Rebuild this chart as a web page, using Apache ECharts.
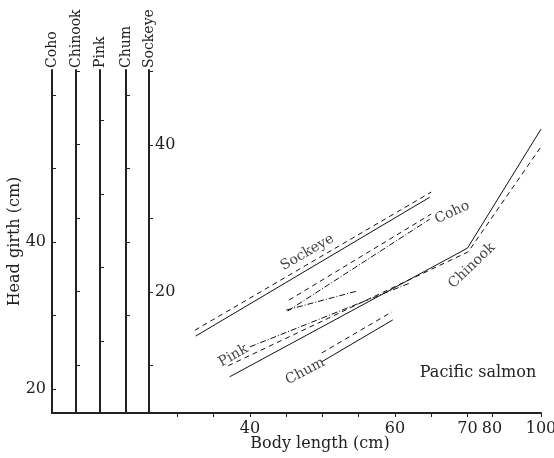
<!DOCTYPE html>
<html><head><meta charset="utf-8">
<script src="https://cdn.jsdelivr.net/npm/echarts@6/dist/echarts.min.js"></script>
<style>html,body{margin:0;padding:0;background:#fff}#c{width:554px;height:458px}</style>
</head><body><div id="c"></div>
<script>
// ---------------- data (body length in cm; head girth in cm on each species' own axis) ----------------
const species = ['Coho', 'Chinook', 'Pink', 'Chum', 'Sockeye'];

const sockeyeSolidX = [32.5, 64.8];
const sockeyeSolidY = [14.0, 32.9];
const sockeyeDashX  = [32.4, 65.0];
const sockeyeDashY  = [14.8, 33.6];

const cohoSolidX = [45.2, 64.8];
const cohoSolidY = [30.6, 43.1];
const cohoDashX  = [45.4, 65.0];
const cohoDashY  = [32.1, 43.8];

const pinkSolidX = [40.0, 62.1];
const pinkSolidY = [19.2, 27.9];
const pinkDashX  = [45.0, 54.8];
const pinkDashY  = [24.2, 26.8];

const chinookSolidX = [37.2, 70.0, 100];
const chinookSolidY = [18.4, 35.9, 52.1];
const chinookDashX  = [37.0, 70.3, 100];
const chinookDashY  = [19.9, 35.4, 49.7];

const chumSolidX = [49.9, 59.7];
const chumSolidY = [23.7, 29.4];
const chumDashX  = [49.9, 59.6];
const chumDashY  = [24.9, 30.5];

const xTickValues  = [30, 35, 40, 45, 50, 55, 60, 65, 70, 80, 100];
const xLabelValues = [40, 60, 70, 80, 100];

const yTickValues = {
  Coho:    [20, 30, 40, 50, 60],
  Chinook: [20, 30, 40, 50, 60],
  Pink:    [20, 30, 40, 50],
  Chum:    [30, 40, 50, 60],
  Sockeye: [10, 20, 30, 40, 50]
};
const yLabelValues = { Coho: [20, 40], Sockeye: [20, 40] };

// ---------------- scale / layout ----------------
// x axis is linear up to 70 cm, then compressed (broken scale)
const xBreak = [[70, 70], [80, 73.38], [100, 80.14]];
function toAxis(L) {
  if (L <= xBreak[0][0]) return L;
  for (let i = 1; i < xBreak.length; i++) {
    const a = xBreak[i - 1], b = xBreak[i];
    if (L <= b[0] || i === xBreak.length - 1) {
      return a[1] + (L - a[0]) / (b[0] - a[0]) * (b[1] - a[1]);
    }
  }
}
const X_MIN = 12.69, X_MAX = 80.14;
const Y_RANGE = 46.67;
const axisLayout = {
  Coho:    { pos: 0,   min: 16.73 },
  Chinook: { pos: 24,  min: 13.47 },
  Pink:    { pos: 48,  min: 10.20 },
  Chum:    { pos: 74,  min: 16.73 },
  Sockeye: { pos: 97,  min: 3.54 }
};
const FONT = 'DejaVu Serif';
const INK = '#222';

function pts(xs, ys) { return xs.map((v, i) => [toAxis(v), ys[i]]); }

const yAxes = species.map(name => {
  const lay = axisLayout[name];
  const labels = yLabelValues[name];
  return {
    type: 'value', position: 'left', offset: -lay.pos,
    min: lay.min, max: lay.min + Y_RANGE,
    name: name, nameLocation: 'end', nameRotate: 90, nameGap: 2,
    nameTextStyle: { fontFamily: FONT, fontSize: 14, color: INK },
    axisLine: { show: true, onZero: false, lineStyle: { color: INK, width: 2 } },
    axisTick: { show: true, inside: true, length: 4, customValues: yTickValues[name], lineStyle: { color: INK, width: 1 } },
    axisLabel: labels ? {
      show: true, inside: name !== 'Coho', margin: 6, customValues: labels,
      fontFamily: FONT, fontSize: 16, color: INK
    } : { show: false },
    splitLine: { show: false }
  };
});
yAxes.push({
  type: 'value', position: 'left', offset: 0, min: axisLayout.Coho.min, max: axisLayout.Coho.min + Y_RANGE,
  name: 'Head girth (cm)', nameLocation: 'middle', nameGap: 29, nameMoveOverlap: false,
  nameTextStyle: { fontFamily: FONT, fontSize: 16, color: INK },
  axisLine: { show: false }, axisTick: { show: false }, axisLabel: { show: false }, splitLine: { show: false }
});

const yIdx = n => species.indexOf(n);
function lineSeries(name, data, axisName, dash) {
  return {
    type: 'line', name: name, yAxisIndex: yIdx(axisName), data: data,
    symbol: 'none', silent: true, clip: false,
    lineStyle: { color: '#111', width: 1, type: dash }
  };
}
const DASH = [5, 4];
const DOTDASH = [6, 2, 1, 2];

// in-plot annotations (text position in data units, rotation in degrees)
const annotations = [
  { text: 'Sockeye', axis: 'Sockeye', L: 47.9, g: 25.4, rot: 30 },
  { text: 'Coho',    axis: 'Coho',    L: 67.9, g: 44.0, rot: 25 },
  { text: 'Chinook', axis: 'Chinook', L: 71.8, g: 33.5, rot: 44 },
  { text: 'Pink',    axis: 'Pink',    L: 37.7, g: 18.0, rot: 30 },
  { text: 'Chum',    axis: 'Chum',    L: 47.6, g: 22.4, rot: 28 }
];
const annoSeries = annotations.map(a => ({
  type: 'scatter', yAxisIndex: yIdx(a.axis), silent: true,
  symbolSize: 0, data: [[toAxis(a.L), a.g]],
  label: { show: true, position: 'inside', formatter: a.text, rotate: a.rot,
           fontFamily: FONT, fontSize: 14, color: '#111' }
}));

const option = {
  animation: false,
  backgroundColor: '#fff',
  grid: { left: 52, right: 13, top: 70, bottom: 45, outerBoundsMode: 'none' },
  xAxis: {
    type: 'value', min: X_MIN, max: X_MAX,
    name: 'Body length (cm)', nameLocation: 'middle', nameGap: 23, nameMoveOverlap: false,
    nameTextStyle: { fontFamily: FONT, fontSize: 16, color: INK, padding: [0, 0, 0, 47] },
    axisLine: { show: true, onZero: false, lineStyle: { color: INK, width: 2 } },
    axisTick: { show: true, inside: false, length: 4, customValues: xTickValues.map(toAxis), lineStyle: { color: INK, width: 1 } },
    axisLabel: {
      show: true, margin: 8, customValues: xLabelValues.map(toAxis),
      formatter: v => { const i = xLabelValues.findIndex(L => Math.abs(toAxis(L) - v) < 1e-6); return i >= 0 ? String(xLabelValues[i]) : ''; },
      fontFamily: FONT, fontSize: 16, color: INK
    },
    splitLine: { show: false }
  },
  yAxis: yAxes,
  series: [
    lineSeries('Sockeye solid', pts(sockeyeSolidX, sockeyeSolidY), 'Sockeye', 'solid'),
    lineSeries('Sockeye dashed', pts(sockeyeDashX, sockeyeDashY), 'Sockeye', DASH),
    lineSeries('Coho solid', pts(cohoSolidX, cohoSolidY), 'Coho', DOTDASH),
    lineSeries('Coho dashed', pts(cohoDashX, cohoDashY), 'Coho', DASH),
    lineSeries('Pink solid', pts(pinkSolidX, pinkSolidY), 'Pink', DOTDASH),
    lineSeries('Pink dashed', pts(pinkDashX, pinkDashY), 'Pink', DOTDASH),
    lineSeries('Chinook solid', pts(chinookSolidX, chinookSolidY), 'Chinook', 'solid'),
    lineSeries('Chinook dashed', pts(chinookDashX, chinookDashY), 'Chinook', DASH),
    lineSeries('Chum solid', pts(chumSolidX, chumSolidY), 'Chum', 'solid'),
    lineSeries('Chum dashed', pts(chumDashX, chumDashY), 'Chum', DASH)
  ].concat(annoSeries),
  graphic: [{
    type: 'text', x: 478, y: 373, silent: true,
    style: { text: 'Pacific salmon', font: '16px "DejaVu Serif"', fill: INK, align: 'center', verticalAlign: 'middle' }
  }]
};
const chart = echarts.init(document.getElementById('c'), null, { renderer: 'canvas' });
chart.setOption(option);
</script>
</body></html>
